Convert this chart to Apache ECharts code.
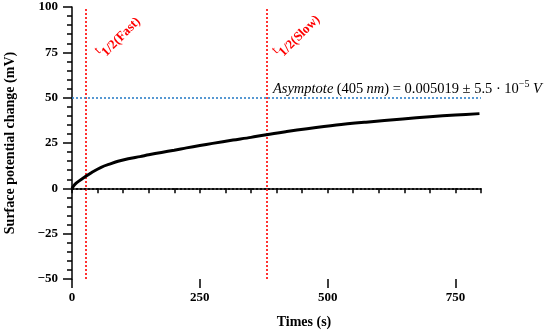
<!DOCTYPE html>
<html><head><meta charset="utf-8">
<script src="https://cdn.jsdelivr.net/npm/echarts@6/dist/echarts.min.js"></script>
<style>html,body{margin:0;padding:0;background:#fff}#c{width:550px;height:332px}</style>
</head><body><div id="c"></div>
<script>
const times     = [0, 5, 10, 20, 27, 40, 57, 75, 90, 110, 133, 150, 175, 200, 224, 250, 275, 315, 350, 380, 420, 460, 517, 575, 647, 700, 750, 797];
const potential = [0, 2.0, 3.3, 5.3, 6.6, 9.0, 11.6, 13.5, 14.9, 16.3, 17.5, 18.5, 19.8, 21.0, 22.3, 23.6, 24.8, 26.6, 28.1, 29.6, 31.3, 32.9, 34.9, 36.5, 38.3, 39.5, 40.4, 41.2];
const halfLifeFast = 27;
const halfLifeSlow = 380;
const asymptoteLevel = 50;
const baselineLevel = 0;
const xTickLabels = [0, 250, 500, 750];
const yTickLabels = [-50, -25, 0, 25, 50, 75, 100];

const FONT = 'Liberation Serif';
const chart = echarts.init(document.getElementById('c'), null, {renderer: 'canvas'});
const axisCommon = {
  axisLine: {lineStyle: {color: '#000', width: 1.5}},
  splitLine: {show: false}
};
const option = {
  animation: false,
  grid: {left: 72, right: 69, top: 7, bottom: 53, containLabel: false, outerBoundsMode: 'none'},
  xAxis: [
    Object.assign({}, axisCommon, {
      type: 'value', min: 0, max: 800, interval: 50,
      axisTick: {show: true, length: 5, lineStyle: {color: '#000', width: 1.5}},
      axisLabel: {customValues: xTickLabels, margin: 12, color: '#000', fontFamily: FONT, fontWeight: 'bold', fontSize: 13}
    }),
    {
      type: 'value', min: 0, max: 800, interval: 250, position: 'bottom',
      axisLine: {show: false}, splitLine: {show: false}, axisLabel: {show: false},
      axisTick: {show: true, customValues: xTickLabels, length: 9, lineStyle: {color: '#000', width: 1.5}}
    }
  ],
  yAxis: Object.assign({}, axisCommon, {
    type: 'value', min: -50, max: 100, interval: 25,
    name: 'Surface potential change (mV)', nameLocation: 'middle', nameGap: 55,
    nameTextStyle: {color: '#000', fontFamily: FONT, fontWeight: 'bold', fontSize: 14},
    axisTick: {show: true, length: 9, lineStyle: {color: '#000', width: 1.5}},
    minorTick: {show: true, splitNumber: 5, length: 5, lineStyle: {color: '#000', width: 1.5}},
    axisLabel: {
      margin: 14, color: '#000', fontFamily: FONT, fontWeight: 'bold', fontSize: 13,
      customValues: yTickLabels,
      formatter: v => String(v).replace('-', '\u2212')
    }
  }),
  series: [{
    type: 'line', data: times.map((t, i) => [t, potential[i]]),
    smooth: 0.3, showSymbol: false, xAxisIndex: 0,
    lineStyle: {color: '#000', width: 3}, z: 5,
    markLine: {
      silent: true, symbol: 'none', label: {show: false}, animation: false,
      data: [
        {xAxis: halfLifeFast, lineStyle: {color: '#ff0000', type: [2, 2], width: 1.6}},
        {xAxis: halfLifeSlow, lineStyle: {color: '#ff0000', type: [2, 2], width: 1.6}},
        {yAxis: baselineLevel, lineStyle: {color: '#000', type: [2, 2], width: 1.6}},
        {yAxis: asymptoteLevel, lineStyle: {color: '#2f7fc8', type: [2, 2], width: 1.6}}
      ]
    }
  }]
};
chart.setOption(option);

function px(x, y) { return chart.convertToPixel({xAxisIndex: 0, yAxisIndex: 0}, [x, y]); }
const fastP = px(halfLifeFast, 70);
const slowP = px(halfLifeSlow, 70);
const asymP = px(393, asymptoteLevel);
const redRich = {
  t: {fontFamily: FONT, fontSize: 13, fill: '#ff0000', verticalAlign: 'top', lineHeight: 20},
  s: {fontFamily: FONT, fontSize: 13, fontWeight: 'bold', fill: '#ff0000', verticalAlign: 'bottom', lineHeight: 20}
};
function halfLabel(p, dx, txt) {
  return {
    type: 'text', x: p[0] + dx, y: p[1], rotation: Math.PI / 4,
    style: {text: '{t|t}{s|' + txt + '}', rich: redRich, align: 'left', verticalAlign: 'bottom'}
  };
}
const mathRich = {
  i: {fontFamily: FONT, fontStyle: 'italic', fontSize: 14.5, fill: '#000', lineHeight: 17, verticalAlign: 'bottom'},
  n: {fontFamily: FONT, fontSize: 14.5, fill: '#000', lineHeight: 17, verticalAlign: 'bottom'},
  p: {fontFamily: FONT, fontSize: 10, fill: '#000', lineHeight: 17, verticalAlign: 'top'}
};
chart.setOption({
  graphic: [
    halfLabel(fastP, 20, '1/2(Fast)'),
    halfLabel(slowP, 17, '1/2(Slow)'),
    {
      type: 'text', x: asymP[0], y: asymP[1] - 1,
      style: {
        text: '{i|Asymptote} {n|(405} {i|nm}{n|) = 0.005019 \u00b1 5.5 \u00b7 10}{p|\u22125}{n| }{i|V}',
        rich: mathRich, align: 'left', verticalAlign: 'bottom'
      }
    },
    {
      type: 'text', x: 304, y: 322,
      style: {text: 'Times (s)', fontFamily: FONT, fontWeight: 'bold', fontSize: 14, fill: '#000', align: 'center', verticalAlign: 'middle'}
    }
  ]
});
</script></body></html>
